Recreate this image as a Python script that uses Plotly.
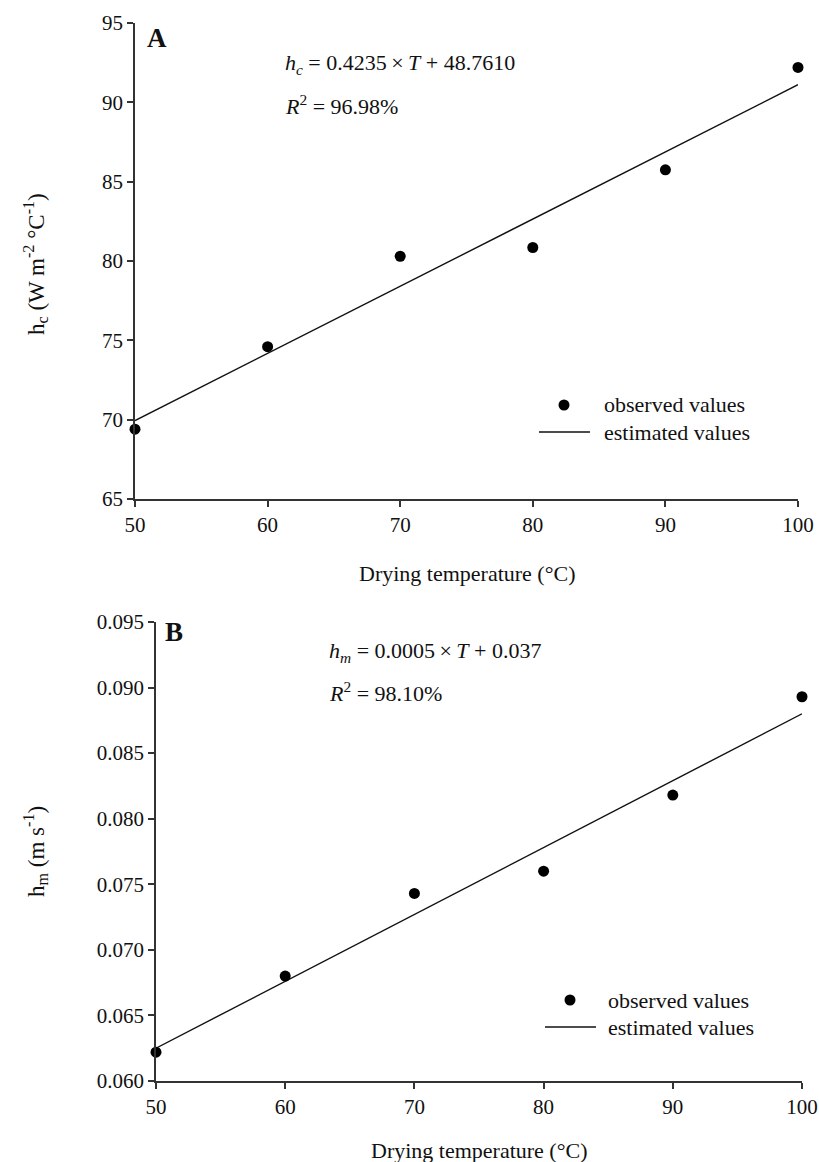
import plotly.graph_objects as go

W, H = 819, 1162

# ---- data ----
temperature = [50, 60, 70, 80, 90, 100]
hc_observed = [69.4, 74.6, 80.3, 80.85, 85.75, 92.2]
hc_estimated = [69.94, 74.17, 78.41, 82.64, 86.88, 91.11]
hm_observed = [0.0622, 0.0680, 0.0743, 0.0760, 0.0818, 0.0893]
hm_estimated = [0.0625, 0.0676, 0.0727, 0.0778, 0.0829, 0.0880]

x_ticks = [50, 60, 70, 80, 90, 100]
hc_ticks = [65, 70, 75, 80, 85, 90, 95]
hm_ticks = [0.060, 0.065, 0.070, 0.075, 0.080, 0.085, 0.090, 0.095]
hm_ticklabels = ["0.060", "0.065", "0.070", "0.075", "0.080", "0.085", "0.090", "0.095"]

FONT = "Liberation Serif, Times New Roman, serif"
INK = "#111111"
AX = "#333333"


def px(x):
    return x / W


def py(y):
    return 1 - y / H


fig = go.Figure()

fig.add_trace(go.Scatter(x=temperature, y=hc_estimated, mode="lines",
                         line=dict(color=INK, width=1.4), xaxis="x", yaxis="y",
                         showlegend=False, cliponaxis=False))
fig.add_trace(go.Scatter(x=temperature, y=hc_observed, mode="markers",
                         marker=dict(color="black", size=11), xaxis="x", yaxis="y",
                         showlegend=False, cliponaxis=False))
fig.add_trace(go.Scatter(x=temperature, y=hm_estimated, mode="lines",
                         line=dict(color=INK, width=1.4), xaxis="x2", yaxis="y2",
                         showlegend=False, cliponaxis=False))
fig.add_trace(go.Scatter(x=temperature, y=hm_observed, mode="markers",
                         marker=dict(color="black", size=11), xaxis="x2", yaxis="y2",
                         showlegend=False, cliponaxis=False))

axis_common = dict(showgrid=False, zeroline=False, showline=True, linecolor=AX,
                   linewidth=1.5, ticks="outside", ticklen=6, tickwidth=1.5,
                   tickcolor=AX, tickfont=dict(family=FONT, size=21, color=INK),
                   automargin=False, fixedrange=True)

fig.update_layout(
    width=W, height=H,
    margin=dict(l=0, r=0, t=0, b=0),
    paper_bgcolor="white", plot_bgcolor="white",
    showlegend=False,
    xaxis=dict(axis_common, domain=[px(135), px(798)], range=[50, 100],
               tickvals=x_ticks, anchor="y"),
    yaxis=dict(axis_common, domain=[py(499), py(23)], range=[65, 95],
               tickvals=hc_ticks, anchor="x"),
    xaxis2=dict(axis_common, domain=[px(156), px(802)], range=[50, 100],
                tickvals=x_ticks, anchor="y2"),
    yaxis2=dict(axis_common, domain=[py(1081), py(622)], range=[0.060, 0.095],
                tickvals=hm_ticks, ticktext=hm_ticklabels, anchor="x2"),
)

ann = []


def text(x, y, s, size=22, xanchor="center", angle=0, bold=False):
    if bold:
        s = "<b>" + s + "</b>"
    ann.append(dict(x=px(x), y=py(y), xref="paper", yref="paper", text=s,
                    showarrow=False, xanchor=xanchor, yanchor="middle",
                    textangle=angle, font=dict(family=FONT, size=size, color=INK)))


TS = "\u2009"  # thin space

# panel letters
text(157, 38, "A", size=27, bold=True)
text(174, 632, "B", size=27, bold=True)

# equations
text(283, 64, "<i>h</i><sub><i>c</i></sub> = 0.4235" + TS + "×" + TS + "<i>T</i> + 48.7610", xanchor="left")
text(283, 105, "<i>R</i><sup>2</sup> = 96.98%", xanchor="left")
text(327, 652, "<i>h</i><sub><i>m</i></sub> = 0.0005" + TS + "×" + TS + "<i>T</i> + 0.037", xanchor="left")
text(327, 692, "<i>R</i><sup>2</sup> = 98.10%", xanchor="left")

# axis titles
text(467, 574, "Drying temperature (°C)")
text(479, 1150, "Drying temperature (°C)")
text(35, 264, "h<sub>c</sub> (W m<sup>-2</sup> °C<sup>-1</sup>)", size=23, angle=-90)
text(36, 852, "h<sub>m</sub> (m s<sup>-1</sup>)", size=23, angle=-90)

# legends (drawn manually)
shapes = []


def legend(mx, my, lx0, lx1, ly, tx):
    shapes.append(dict(type="circle", xref="paper", yref="paper",
                       xsizemode="pixel", ysizemode="pixel",
                       xanchor=px(mx), yanchor=py(my),
                       x0=-5.5, x1=5.5, y0=-5.5, y1=5.5,
                       fillcolor="black", line=dict(width=0)))
    shapes.append(dict(type="line", xref="paper", yref="paper",
                       x0=px(lx0), x1=px(lx1), y0=py(ly), y1=py(ly),
                       line=dict(color=INK, width=1.4)))
    text(tx, my, "observed values", xanchor="left")
    text(tx, ly, "estimated values", xanchor="left")


legend(564, 405, 539, 590, 432, 602)
legend(570, 1000, 545, 596, 1027, 606)

fig.update_layout(annotations=ann, shapes=shapes)

fig.write_html("out.html")
